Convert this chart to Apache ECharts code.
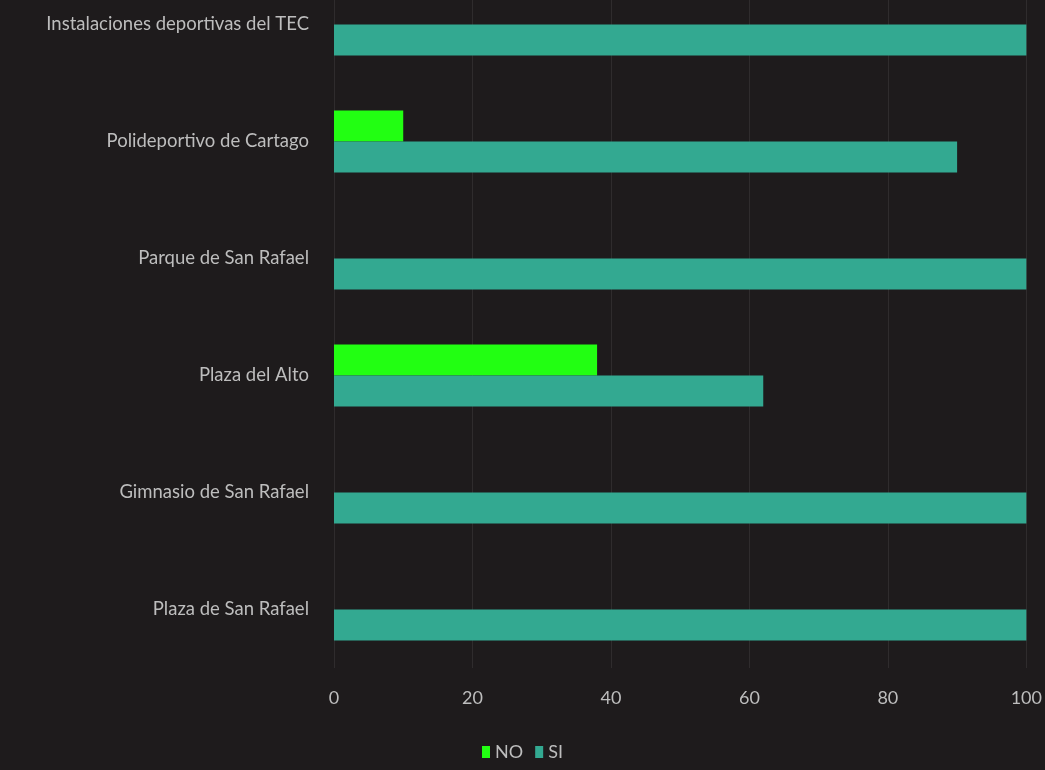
<!DOCTYPE html>
<html><head><meta charset="utf-8">
<script src="https://cdn.jsdelivr.net/npm/echarts@6/dist/echarts.min.js"></script>
<style>html,body{margin:0;padding:0;background:#1e1b1c;overflow:hidden;}#c{width:1045px;height:804px;position:relative;top:-34px;}</style>
</head><body><div id="c"></div>
<script>
// categories bottom-to-top (ECharts category y-axis order)
const categories = ['Plaza de San Rafael','Gimnasio de San Rafael','Plaza del Alto','Parque de San Rafael','Polideportivo de Cartago','Instalaciones deportivas del TEC'];
const noValues = [0, 0, 38, 0, 10, 0];
const siValues = [100, 100, 62, 100, 90, 100];
const xTicks = [0, 20, 40, 60, 80, 100];

const font = "Lato,'Open Sans',sans-serif";
const chart = echarts.init(document.getElementById('c'));
chart.setOption({
  backgroundColor: '#1e1b1c',
  animation: false,
  grid: {left: 334, right: 18, top: 0, bottom: 102, containLabel: false},
  legend: {
    data: ['NO','SI'], bottom: 4, left: 'center',
    itemWidth: 8, itemHeight: 12, itemGap: 12,
    icon: 'rect',
    textStyle: {color: '#bdbdbd', fontSize: 18, fontFamily: font}
  },
  xAxis: {
    type: 'value', min: xTicks[0], max: xTicks[xTicks.length-1], interval: 20,
    axisLine: {show: false}, axisTick: {show: false},
    axisLabel: {color: '#bdbdbd', fontSize: 18, fontFamily: font, margin: 21},
    splitLine: {show: true, lineStyle: {color: '#2f2c2d', width: 1}}
  },
  yAxis: {
    type: 'category', data: categories,
    axisLine: {show: false}, axisTick: {show: false},
    axisLabel: {color: '#bdbdbd', fontSize: 18.5, fontFamily: font, margin: 25},
    splitLine: {show: false}
  },
  series: [
    {name: 'NO', type: 'bar', data: noValues, barWidth: 31, barGap: '0%',
     itemStyle: {color: '#22ff12'}},
    {name: 'SI', type: 'bar', data: siValues, barWidth: 31, barGap: '0%',
     itemStyle: {color: '#33a991'}}
  ]
});
</script></body></html>
